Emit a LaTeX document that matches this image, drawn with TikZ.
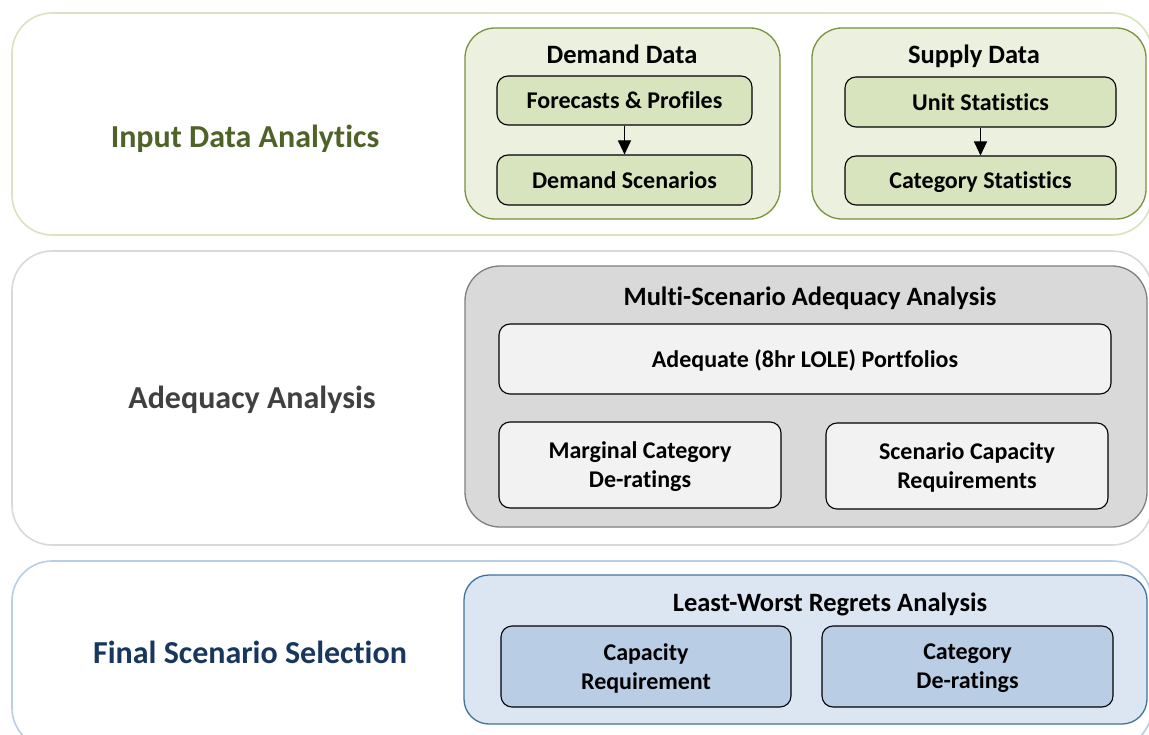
\documentclass[tikz,border=0pt]{standalone}
\usepackage{fontspec}
\setmainfont{Carlito}[Ligatures=NoCommon]
\definecolor{gA}{HTML}{D7E4BD}
\definecolor{gB}{HTML}{EBF1DE}
\definecolor{gC}{HTML}{77933C}
\definecolor{gT}{HTML}{4F6228}
\definecolor{kA}{HTML}{D9D9D9}
\definecolor{kB}{HTML}{F2F2F2}
\definecolor{kC}{HTML}{7F7F7F}
\definecolor{kT}{HTML}{404040}
\definecolor{bA}{HTML}{B9CDE5}
\definecolor{bB}{HTML}{DCE6F2}
\definecolor{bC}{HTML}{41719C}
\definecolor{bT}{HTML}{17375E}
\usetikzlibrary{arrows.meta}
\tikzset{
  band/.style={draw, line width=1.6pt, rounded corners=40pt, fill=white, inner sep=0pt},
  group/.style={draw, line width=1.3pt, inner sep=0pt},
  item/.style={draw=black, line width=1.1pt, rounded corners=11pt, inner sep=0pt, align=center,
    text depth=0pt, font=\bfseries\fontsize{24}{29}\selectfont},
  ttl/.style={font=\bfseries\fontsize{26.5}{30}\selectfont, inner sep=0pt, text depth=0pt},
  bigl/.style={font=\bfseries\fontsize{32}{36}\selectfont, inner sep=0pt, text depth=0pt},
  arr/.style={-{Triangle[length=14pt,width=13pt]}, line width=1.1pt},
}
\begin{document}
\begin{tikzpicture}[x=1pt,y=-1pt]
\useasboundingbox[fill=white] (0,0) rectangle (1149,735);
% bands
\draw[band, draw=gA] (12,13) rectangle (1152,235);
\draw[band, draw=kA] (12,251) rectangle (1152,545);
\draw[band, draw=bA] (12,561) rectangle (1152,748);
% left labels
\node[bigl, text=gT] (l1) at (245,136) {Input Data Analytics};
\node[bigl, text=kT] (l2) at (252,397) {Adequacy Analysis};
\node[bigl, text=bT] (l3) at (250,652) {Final Scenario Selection};
% Demand / Supply groups
\draw[group, draw=gC, fill=gB, rounded corners=30pt] (465,28) rectangle (780,219);
\draw[group, draw=gC, fill=gB, rounded corners=30pt] (812,28) rectangle (1146,219);
\node[ttl] (dd) at (622,54) {Demand Data};
\node[ttl] (sd) at (974,54) {Supply Data};
\node[item, fill=gA, minimum width=255pt, minimum height=49pt] (fp) at (624.5,100.5) {Forecasts \& Profiles};
\node[item, fill=gA, minimum width=255pt, minimum height=50pt] (ds) at (624.5,180) {Demand Scenarios};
\node[item, fill=gA, minimum width=271pt, minimum height=50pt] (us) at (980.5,102) {Unit Statistics};
\node[item, fill=gA, minimum width=271pt, minimum height=49pt] (cs) at (980.5,180.5) {Category Statistics};
\draw[arr] (fp) -- (ds);
\draw[arr] (us) -- (cs);
% Multi-scenario
\draw[group, draw=kC, fill=kA, rounded corners=35pt] (465,266) rectangle (1147,527);
\node[ttl] (ms) at (810,296) {Multi-Scenario Adequacy Analysis};
\node[item, fill=kB, minimum width=612pt, minimum height=70pt] (ad) at (805,359) {Adequate (8hr LOLE) Portfolios};
\node[item, fill=kB, minimum width=282pt, minimum height=86pt] (mc) at (640,465) {Marginal Category\\De-ratings};
\node[item, fill=kB, minimum width=282pt, minimum height=86pt] (sc) at (967,466) {Scenario Capacity\\Requirements};
% Least-worst
\draw[group, draw=bC, fill=bB, rounded corners=25pt] (464,575) rectangle (1147,724);
\node[ttl] (lw) at (830,602) {Least-Worst Regrets Analysis};
\node[item, fill=bA, minimum width=290pt, minimum height=81pt] (cr) at (646,666.5) {Capacity\\Requirement};
\node[item, fill=bA, minimum width=291pt, minimum height=81pt] (cd) at (967.5,666.5) {Category\\De-ratings};
\end{tikzpicture}
\end{document}
